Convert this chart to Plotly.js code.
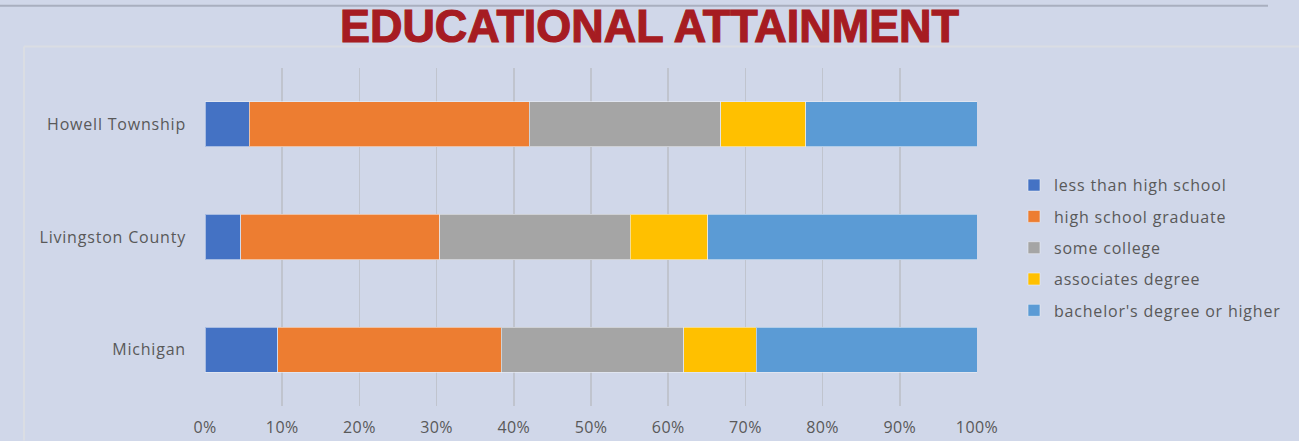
<!DOCTYPE html>
<html>
<head>
<meta charset="utf-8">
<script src="https://cdn.plot.ly/plotly-3.0.1.min.js"></script>
<style>
html,body{margin:0;padding:0;background:#D0D7E9;}
#chart{width:1299px;height:441px;}
.ytick text, .legendtext { letter-spacing: 0.8px; }
.xtick text { letter-spacing: 0.4px; }
</style>
</head>
<body>
<div id="chart"></div>
<script>
const categories = ["Michigan", "Livingston County", "Howell Township"];
const seriesNames = ["less than high school", "high school graduate", "some college", "associates degree", "bachelor's degree or higher"];
const lessThanHS = [9.4, 4.6, 5.7];
const hsGraduate = [29.0, 25.8, 36.3];
const someCollege = [23.6, 24.7, 24.8];
const associates = [9.4, 10.0, 11.0];
const bachelors = [28.6, 34.9, 22.2];
const tickVals = [0,10,20,30,40,50,60,70,80,90,100];
const tickText = ["0%","10%","20%","30%","40%","50%","60%","70%","80%","90%","100%"];

const colors = ["#4472C4", "#ED7D31", "#A5A5A5", "#FFC000", "#5B9BD5"];
const values = [lessThanHS, hsGraduate, someCollege, associates, bachelors];

const traces = values.map((v, i) => ({
  type: 'bar',
  orientation: 'h',
  name: seriesNames[i],
  legendgroup: 'g' + i,
  y: categories,
  x: v,
  marker: {color: colors[i], line: {color: 'rgba(235,238,245,0.6)', width: 1}},
  hoverinfo: 'x+name'
}));

const W = 1299, H = 441;
const L = 205, R = 322, T = 67.5, B = 34.5;
const pw = W - L - R, ph = H - T - B;
const px = x => (x - L) / pw;
const py = y => (H - B - y) / ph;

const layout = {
  width: W, height: H,
  paper_bgcolor: '#D0D7E9',
  plot_bgcolor: 'rgba(0,0,0,0)',
  margin: {l: L, r: R, t: T, b: B, pad: 0},
  barmode: 'stack',
  bargap: 0.6,
  font: {family: 'Open Sans, sans-serif', size: 16, color: '#595959'},
  title: {
    text: 'EDUCATIONAL ATTAINMENT',
    font: {family: '"Liberation Sans", sans-serif', size: 46, color: '#A61C22', weight: 'bold'},
    x: 0.5, xref: 'container', xanchor: 'center',
    y: 1 - 26/H, yref: 'container', yanchor: 'middle'
  },
  xaxis: {
    range: [0, 100],
    tickvals: tickVals, ticktext: tickText,
    showgrid: true, gridcolor: '#C0C4CE', gridwidth: 1.5,
    zeroline: false, showline: false,
    ticks: '', ticklabelstandoff: 10,
    tickfont: {size: 16, color: '#595959'},
    fixedrange: true
  },
  yaxis: {
    categoryorder: 'array', categoryarray: categories,
    range: [-0.5, 2.5],
    showgrid: false, zeroline: false, showline: false,
    ticks: '', ticklabelstandoff: 18,
    tickfont: {size: 16, color: '#595959'},
    fixedrange: true
  },
  legend: {
    x: px(1014), xanchor: 'left',
    y: py(168), yanchor: 'top',
    traceorder: 'grouped',
    font: {size: 16, color: '#595959'},
    itemwidth: 30,
    tracegroupgap: 7.5,
    bgcolor: 'rgba(0,0,0,0)'
  },
  shapes: [
    {type: 'line', xref: 'paper', yref: 'paper', x0: px(0), x1: px(1268), y0: py(5), y1: py(5), line: {color: '#A9AFBF', width: 2}},
    {type: 'line', xref: 'paper', yref: 'paper', x0: px(24), x1: px(1299), y0: py(46), y1: py(46), line: {color: '#DADDE3', width: 2}},
    {type: 'line', xref: 'paper', yref: 'paper', x0: px(24), x1: px(24), y0: py(46), y1: py(441), line: {color: '#DADDE3', width: 2}}
  ],
  showlegend: true
};

Plotly.newPlot('chart', traces, layout, {displayModeBar: false, staticPlot: true}).then(gd => {
  const t = gd.querySelector('.gtitle');
  if (t) {
    t.setAttribute('textLength', '619');
    t.setAttribute('lengthAdjust', 'spacingAndGlyphs');
    t.style.stroke = '#A61C22';
    t.style.strokeWidth = '1.2px';
  }
});
</script>
</body>
</html>
